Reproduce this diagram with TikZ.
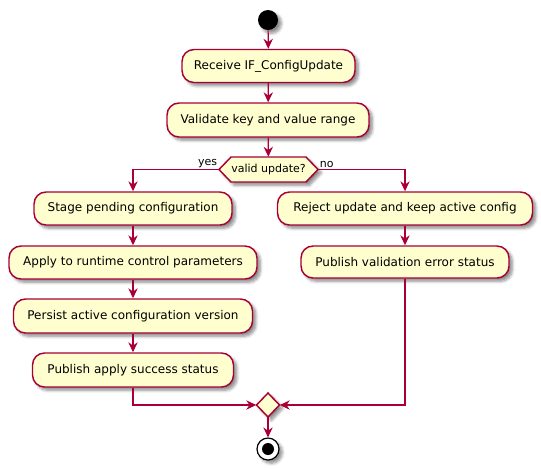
\documentclass[tikz,border=0pt]{standalone}
\usepackage{fontspec}
\setmainfont{DejaVu Sans}
\usetikzlibrary{arrows.meta,shadows.blur}
\definecolor{pred}{HTML}{A80036}
\definecolor{pfill}{HTML}{FEFECE}
\begin{document}
\begin{tikzpicture}[x=0.75pt,y=-0.75pt,
  shad/.style={blur shadow={shadow xshift=2.5pt,shadow yshift=-2.5pt,shadow blur steps=6,shadow opacity=45}},
  act/.style={draw=pred,fill=pfill,line width=1.1pt,rounded corners=9pt,
    font=\fontsize{9}{11}\selectfont,inner sep=0pt,shad},
  small/.style={font=\fontsize{8.25}{10}\selectfont},
  flow/.style={draw=pred,line width=0.9pt,-{Stealth[length=7.5pt,width=7pt,inset=2.5pt]}},
  line/.style={draw=pred,line width=0.9pt},
  hook/.style={rectangle,inner sep=0pt},
]
\useasboundingbox (0,0) rectangle (541,469);

% start
\node[circle,fill=black,minimum size={20*0.75pt},inner sep=0pt,shad] (start) at (268,20) {};

% actions
\node[act,minimum width={173*0.75pt},minimum height={33*0.75pt}] (recv) at (268.5,66) {Receive IF\_ConfigUpdate};
\node[act,minimum width={202*0.75pt},minimum height={34*0.75pt}] (valid) at (268,120) {Validate key and value range};

% decision hexagon
\path[draw=pred,fill=pfill,line width=1.1pt,shad]
  (219,169.5) -- (231,157) -- (306,157) -- (318,169.5) -- (306,182) -- (231,182) -- cycle;
\node[hook,small,minimum width={99*0.75pt},minimum height={25*0.75pt}] (dec) at (268.5,169.5) {valid update?};
\node[small,anchor=south east,inner sep=1pt] (yes) at (dec.west) {yes};
\node[small,anchor=south west,inner sep=1pt] (no) at (dec.east) {no};

% left branch
\node[act,minimum width={198*0.75pt},minimum height={33*0.75pt}] (stage) at (133,208.5) {Stage pending configuration};
\node[act,minimum width={248*0.75pt},minimum height={33*0.75pt}] (apply) at (133,262.5) {Apply to runtime control parameters};
\node[act,minimum width={239*0.75pt},minimum height={34*0.75pt}] (persist) at (133,316) {Persist active configuration version};
\node[act,minimum width={201*0.75pt},minimum height={34*0.75pt}] (pubok) at (133,370) {Publish apply success status};

% right branch
\node[act,minimum width={255*0.75pt},minimum height={33*0.75pt}] (reject) at (405,208.5) {Reject update and keep active config};
\node[act,minimum width={208*0.75pt},minimum height={32*0.75pt}] (puberr) at (405,262) {Publish validation error status};

% merge diamond
\path[draw=pred,fill=pfill,line width=1.1pt,shad]
  (256.5,405) -- (268,393) -- (279.5,405) -- (268,417) -- cycle;
\node[hook,minimum width={23*0.75pt},minimum height={24*0.75pt}] (merge) at (268,405) {};

% end
\node[circle,draw=black,fill=white,line width=0.9pt,minimum size={22*0.75pt},inner sep=0pt,shad] (stop) at (268,449) {};
\fill[black] (stop.center) circle (6);

% connectors
\draw[flow] (start) -- (recv);
\draw[flow] (recv) -- (valid);
\draw[flow] (valid) -- (dec);
\draw[flow] (dec.west) -| (stage.north);
\draw[flow] (dec.east) -| (reject.north);
\draw[flow] (stage) -- (apply);
\draw[flow] (apply) -- (persist);
\draw[flow] (persist) -- (pubok);
\draw[flow] (reject) -- (puberr);
\draw[flow] (pubok.south) |- (merge.west);
\draw[flow] (puberr.south) |- (merge.east);
\draw[flow] (merge) -- (stop);
\end{tikzpicture}
\end{document}
